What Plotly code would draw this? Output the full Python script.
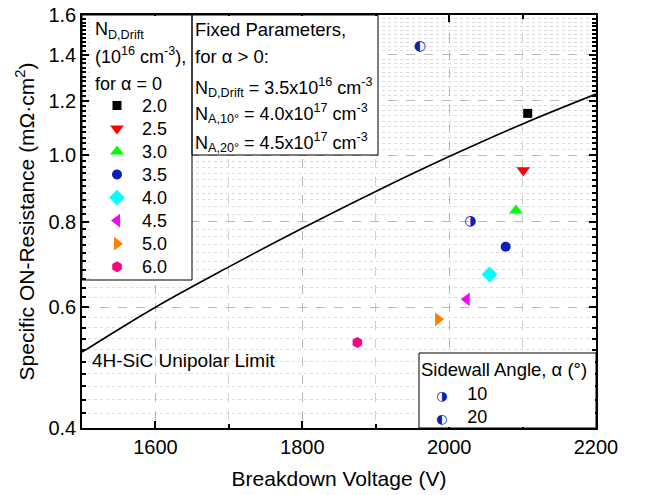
import numpy as np
import plotly.graph_objects as go

# ---------------- data ----------------
nd_labels = ["2.0", "2.5", "3.0", "3.5", "4.0", "4.5", "5.0", "6.0"]
bv_alpha0 = [2107, 2101, 2091, 2077, 2055, 2024, 1985, 1875]
ron_alpha0 = [1.15, 0.95, 0.83, 0.735, 0.67, 0.616, 0.576, 0.533]
nd_symbols = ["square", "triangle-down", "triangle-up", "circle", "diamond",
              "triangle-left", "triangle-right", "hexagon"]
nd_colors = ["#000000", "#FF0000", "#00FF00", "#0D1FB5", "#00FFFF",
             "#FF00FF", "#FF8000", "#FF0080"]
nd_sizes = [9, 12, 12, 10, 12, 12, 12, 11]

angle_labels = ["10", "20"]
bv_angle = [2029, 1960]
ron_angle = [0.80, 1.44]
angle_glyphs = ["\u25D1", "\u25D0"]
angle_color = "#0D1FB5"

limit_bv = [1500, 1600, 1700, 1800, 1900, 2000, 2100, 2200]
limit_ron = [0.516, 0.600, 0.687, 0.782, 0.885, 0.995, 1.11, 1.227]

y_major = [0.4, 0.6, 0.8, 1.0, 1.2, 1.4, 1.6]
y_major_text = ["0.4", "0.6", "0.8", "1.0", "1.2", "1.4", "1.6"]
x_major = [1600, 1800, 2000, 2200]
x_minor = [1700, 1900, 2100]

# ---------------- layout helpers ----------------
W, H = 645, 495
L, R, T, B = 82, 596, 15, 428
FONT = "Liberation Sans, Arial, sans-serif"


def px(x):
    return (x - L) / (R - L)


def py(y):
    return (B - y) / (B - T)


y_minor = [round(v, 2) for v in np.arange(0.42, 1.6, 0.02)
           if all(abs(v - m) > 1e-6 for m in y_major)]

fig = go.Figure()

# legend 1 entries (alpha = 0 series)
for lab, xv, yv, sym, col, sz in zip(nd_labels, bv_alpha0, ron_alpha0,
                                      nd_symbols, nd_colors, nd_sizes):
    fig.add_trace(go.Scatter(
        x=[xv], y=[yv], mode="markers",
        name="<span style='font-size:18px'>\u00a0" + lab + "</span>",
        marker=dict(symbol=sym, color=col, size=sz, line=dict(width=0)),
        legend="legend", showlegend=True))

# legend 2 entries (sidewall angle); glyph drawn as text
for lab, xv, yv, g in zip(angle_labels, bv_angle, ron_angle, angle_glyphs):
    fig.add_trace(go.Scatter(
        x=[xv], y=[yv], mode="markers",
        name=("<span style='color:%s;font-family:DejaVu Sans;font-size:13px'>%s</span>"
              "<span style='font-size:18px'>\u00a0\u00a0\u00a0\u00a0%s</span>"
              % (angle_color, g, lab)),
        marker=dict(color="rgba(0,0,0,0)", size=10),
        legend="legend2", showlegend=True))
    fig.add_trace(go.Scatter(
        x=[xv], y=[yv], mode="text", text=[g], textposition="middle center",
        textfont=dict(family="DejaVu Sans", size=14, color=angle_color),
        showlegend=False))

# unipolar limit
fig.add_trace(go.Scatter(x=limit_bv, y=limit_ron, mode="lines",
                         line=dict(color="black", width=1.6, shape="spline"),
                         showlegend=False))

axis_common = dict(showline=True, linecolor="black", linewidth=1.5,
                   mirror="allticks", ticks="inside", tickcolor="black",
                   tickwidth=1.5, ticklen=7, zeroline=False, automargin=False,
                   tickfont=dict(size=20, color="black", family=FONT),
                   showgrid=True, gridcolor="#b8b8b8", griddash="dash",
                   gridwidth=1)

fig.update_xaxes(range=[1500, 2200], tickmode="array", tickvals=x_major,
                 title=dict(text="Breakdown Voltage (V)",
                            font=dict(size=21, family=FONT, color="black")),
                 minor=dict(tickmode="array", tickvals=x_minor, ticks="inside",
                            ticklen=4, tickcolor="black", tickwidth=1.5,
                            showgrid=True, gridcolor="#d0d0d0", griddash="dash"),
                 **axis_common)
fig.update_yaxes(type="log", range=[np.log10(0.4), np.log10(1.6)],
                 tickmode="array", tickvals=y_major, ticktext=y_major_text,
                 title=dict(text="Specific ON-Resistance (m\u03A9\u00B7cm<sup>2</sup>)",
                            standoff=8,
                            font=dict(size=21, family=FONT, color="black")),
                 minor=dict(tickmode="array", tickvals=y_minor, ticks="inside",
                            ticklen=4, tickcolor="black", tickwidth=1.5,
                            showgrid=True, gridcolor="#dcdcdc", griddash="dot"),
                 **axis_common)

shapes = []
# white backgrounds (inset so axis ticks on the left stay visible)
for (x0, y0, x1, y1) in [(90, 16, 192, 280), (192, 16, 378, 155), (419, 353, 595, 427)]:
    shapes.append(dict(type="rect", xref="paper", yref="paper",
                       x0=px(x0), x1=px(x1), y0=py(y1), y1=py(y0),
                       line=dict(width=0), fillcolor="white", layer="above"))
# borders
for (x0, y0, x1, y1) in [(82, 15, 192, 280), (192, 15, 378, 155), (419, 353, 596, 428)]:
    shapes.append(dict(type="rect", xref="paper", yref="paper",
                       x0=px(x0), x1=px(x1), y0=py(y1), y1=py(y0),
                       line=dict(color="black", width=1), fillcolor="rgba(0,0,0,0)",
                       layer="above"))

ann = []


def add_text(txt, x, y, size=18, xanchor="left"):
    ann.append(dict(text=txt, x=px(x), y=py(y), xref="paper", yref="paper",
                    xanchor=xanchor, yanchor="middle", showarrow=False,
                    font=dict(size=size, family=FONT, color="black"), align="left"))


add_text("N<sub>D,Drift</sub>", 93, 30)
add_text("(10<sup>16</sup> cm<sup>-3</sup>),", 93, 55)
add_text("for \u03B1 = 0", 93, 84)
add_text("Fixed Parameters,", 193, 29, size=18.5)
add_text("for \u03B1 > 0:", 193, 57, size=18.5)
add_text("N<sub>D,Drift</sub> = 3.5x10<sup>16</sup> cm<sup>-3</sup>", 193, 87)
add_text("N<sub>A,10\u00B0</sub> = 4.0x10<sup>17</sup> cm<sup>-3</sup>", 193, 114)
add_text("N<sub>A,20\u00B0</sub> = 4.5x10<sup>17</sup> cm<sup>-3</sup>", 193, 142)
add_text("4H-SiC Unipolar Limit", 90, 360, size=19)
add_text("Sidewall Angle, \u03B1 (\u00B0)", 419, 369, size=18.5)

leg_common = dict(bgcolor="rgba(0,0,0,0)", borderwidth=0, xanchor="left",
                  yanchor="top", font=dict(size=15.4, family=FONT, color="black"),
                  tracegroupgap=0, itemclick=False)

fig.update_layout(
    width=W, height=H,
    margin=dict(l=L, r=W - R, t=T, b=H - B, pad=0, autoexpand=False),
    paper_bgcolor="white", plot_bgcolor="white",
    font=dict(family=FONT, color="black"),
    shapes=shapes, annotations=ann,
    legend=dict(x=px(97), y=py(89), **leg_common),
    legend2=dict(x=px(396), y=py(377), **leg_common),
)

fig.write_html("out.html")
